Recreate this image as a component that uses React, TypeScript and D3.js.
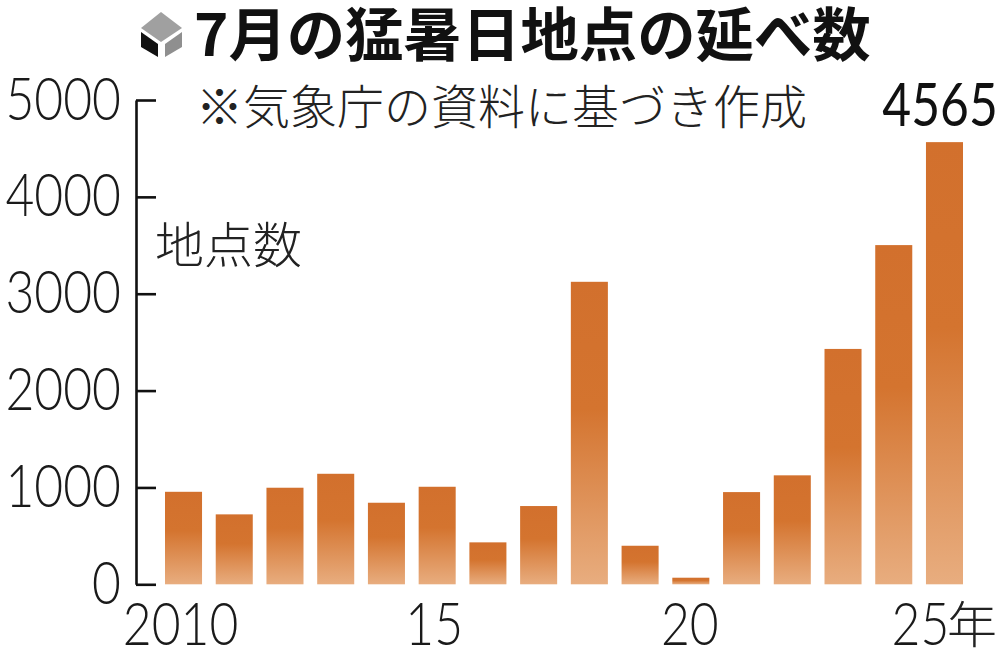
import React, { useEffect, useRef } from 'react';
import * as d3 from 'd3';

const years = ['2010', '2011', '2012', '2013', '2014', '2015', '2016', '2017', '2018', '2019', '2020', '2021', '2022', '2023', '2024', '2025'];
const counts = [955, 722, 997, 1141, 842, 1007, 433, 808, 3123, 398, 68, 952, 1125, 2430, 3502, 4565];
const yTicks = [0, 1000, 2000, 3000, 4000, 5000];
const xTickYears = ['2010', '2015', '2020', '2025'];
const xTickLabels = ['2010', '15', '20', '25'];

const sans = '"Noto Sans CJK JP", "Noto Sans", sans-serif';
const digits = 'Lato, "Noto Sans", sans-serif';
const narrow = 0.83;

// nudges so the year labels sit where the original has them
const xTickShift = (d: string) => (d === '2025' ? -24 : d === '2020' ? -1 : -3);

const App = () => {
  const yAxisRef = useRef<SVGGElement>(null);
  const xAxisRef = useRef<SVGGElement>(null);

  const x = d3.scaleBand().domain(years).range([165, 963]).paddingInner(0.27).paddingOuter(0);
  const y = d3.scaleLinear().domain([0, 5000]).range([584.3, 100]);

  useEffect(() => {
    // y axis, ticks point right but labels stay on the left
    const yAxis = d3.select(yAxisRef.current)
      .call(d3.axisLeft(y).tickValues(yTicks).tickSize(-20).tickSizeOuter(0).tickPadding(16).tickFormat(d3.format('d')) as any);
    yAxis.select('.domain').attr('stroke', '#111').attr('stroke-width', 2.6);
    yAxis.selectAll('.tick line').attr('stroke', '#111').attr('stroke-width', 2.6);
    yAxis.selectAll<SVGTextElement, number>('.tick text')
      .attr('font-family', digits)
      .attr('font-size', 60)
      .attr('font-weight', 300)
      .attr('fill', '#1a1a1a')
      .attr('x', 0)
      .attr('dy', 0)
      .attr('transform', `translate(-15,19) scale(${narrow},1)`);

    // x axis shows every fifth year
    const xAxis = d3.select(xAxisRef.current)
      .call(d3.axisBottom(x).tickValues(xTickYears).tickSize(0).tickPadding(0)
        .tickFormat((d: string) => xTickLabels[xTickYears.indexOf(d)]) as any);
    xAxis.select('.domain').remove();
    xAxis.selectAll<SVGTextElement, string>('.tick text')
      .attr('font-family', digits)
      .attr('font-size', 60)
      .attr('font-weight', 300)
      .attr('fill', '#1a1a1a')
      .attr('y', 0)
      .attr('dy', 0)
      .attr('transform', d => `translate(${xTickShift(d)},0) scale(${narrow},1)`);
  }, []);

  return (
    <svg width={1000} height={649} style={{ position: 'absolute', left: 0, top: 0, background: '#fff' }}>
      <defs>
        <linearGradient id="barFill" x1="0" y1="0" x2="0" y2="1">
          <stop offset="0" stopColor="#d2702d" />
          <stop offset="0.42" stopColor="#d4742f" />
          <stop offset="1" stopColor="#e8ad7f" />
        </linearGradient>
      </defs>

      {/* title cube icon */}
      <g>
        <polygon points="141,28 161,12 182,28 161,42" fill="#a0a0a0" />
        <polygon points="141,32 158,44 158,57 141,47" fill="#111" />
        <polygon points="165,44 182,32 182,47 165,57" fill="#8f8f8f" />
      </g>
      <text x={194} y={56} fontFamily={sans} fontWeight={700} fontSize={58.4} fill="#111">7月の猛暑日地点の延べ数</text>
      <text x={196} y={124} fontFamily={sans} fontWeight={300} fontSize={47} fill="#222">※気象庁の資料に基づき作成</text>
      <text x={155} y={263} fontFamily={sans} fontWeight={300} fontSize={49} fill="#222">地点数</text>

      {years.map((year, i) => (
        <rect key={year} x={x(year)} y={y(counts[i])} width={x.bandwidth()} height={y(0) - y(counts[i])} fill="url(#barFill)" />
      ))}

      <text transform={`translate(940,126) scale(${narrow},1)`} textAnchor="middle" fontFamily={digits} fontWeight={400} fontSize={60} fill="#111">{counts[counts.length - 1]}</text>
      <text x={947} y={643} fontFamily={sans} fontWeight={300} fontSize={50} fill="#222">年</text>

      <g ref={yAxisRef} transform="translate(136,0)" />
      <g ref={xAxisRef} transform="translate(0,645)" />
    </svg>
  );
};

export default App;
